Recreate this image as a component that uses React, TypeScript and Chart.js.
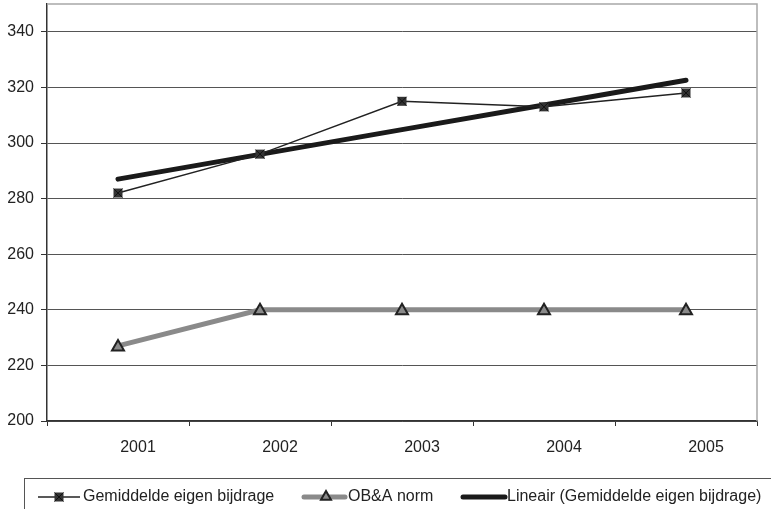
import React, { useEffect, useRef } from "react";
import { Chart, registerables } from "chart.js";

Chart.register(...registerables);

const categories = ["2001", "2002", "2003", "2004", "2005"];
const gemiddelde = [282, 296, 315, 313, 318];
const obaNorm = [227, 240, 240, 240, 240];
const lineair = [287, 295.9, 304.8, 313.7, 322.6];
const yTicks = [200, 220, 240, 260, 280, 300, 320, 340];

const FONT = "'Liberation Sans', Arial, sans-serif";

function drawCrossSquare(ctx: CanvasRenderingContext2D, x: number, y: number, s: number) {
  ctx.save();
  ctx.fillStyle = "#333";
  ctx.fillRect(x - s, y - s, 2 * s, 2 * s);
  ctx.strokeStyle = "#111";
  ctx.lineWidth = 1;
  ctx.beginPath();
  ctx.moveTo(x - s, y - s);
  ctx.lineTo(x + s, y + s);
  ctx.moveTo(x + s, y - s);
  ctx.lineTo(x - s, y + s);
  ctx.stroke();
  ctx.restore();
}

function drawTriangle(ctx: CanvasRenderingContext2D, x: number, y: number, r: number) {
  ctx.save();
  ctx.fillStyle = "#8a8a8a";
  ctx.strokeStyle = "#222";
  ctx.lineWidth = 2;
  ctx.beginPath();
  ctx.moveTo(x, y - r);
  ctx.lineTo(x + r, y + r * 0.75);
  ctx.lineTo(x - r, y + r * 0.75);
  ctx.closePath();
  ctx.fill();
  ctx.stroke();
  ctx.restore();
}

const framePlugin = {
  id: "frame",
  beforeDatasetsDraw(chart: any) {
    const { ctx, chartArea } = chart;
    ctx.save();
    ctx.strokeStyle = "#a8a8a8";
    ctx.lineWidth = 1.5;
    ctx.beginPath();
    ctx.moveTo(chartArea.left, chartArea.top);
    ctx.lineTo(chartArea.right, chartArea.top);
    ctx.lineTo(chartArea.right, chartArea.bottom);
    ctx.stroke();
    ctx.restore();
  },
  afterDatasetsDraw(chart: any) {
    const { ctx } = chart;
    const meta0 = chart.getDatasetMeta(0);
    meta0.data.forEach((p: any) => drawCrossSquare(ctx, p.x, p.y, 4.5));
    const meta1 = chart.getDatasetMeta(1);
    meta1.data.forEach((p: any) => drawTriangle(ctx, p.x, p.y, 6));
  },
  afterDraw(chart: any) {
    const { ctx } = chart;
    ctx.save();
    ctx.strokeStyle = "#555";
    ctx.lineWidth = 1;
    ctx.strokeRect(24.5, 478.5, 800, 60);
    const ly = 497;
    ctx.font = `16px ${FONT}`;
    ctx.fillStyle = "#222";
    ctx.textBaseline = "middle";
    // item 1
    ctx.strokeStyle = "#222";
    ctx.lineWidth = 1.5;
    ctx.beginPath();
    ctx.moveTo(38, ly);
    ctx.lineTo(80, ly);
    ctx.stroke();
    drawCrossSquare(ctx, 59, ly, 4.5);
    ctx.fillText("Gemiddelde eigen bijdrage", 83, ly);
    // item 2
    ctx.strokeStyle = "#8a8a8a";
    ctx.lineWidth = 5;
    ctx.lineCap = "round";
    ctx.beginPath();
    ctx.moveTo(304, ly);
    ctx.lineTo(345, ly);
    ctx.stroke();
    drawTriangle(ctx, 326, ly - 1, 5);
    ctx.fillStyle = "#222";
    ctx.fillText("OB&A norm", 348, ly);
    // item 3
    ctx.strokeStyle = "#1a1a1a";
    ctx.lineWidth = 5;
    ctx.beginPath();
    ctx.moveTo(463, ly);
    ctx.lineTo(505, ly);
    ctx.stroke();
    ctx.fillText("Lineair (Gemiddelde eigen bijdrage)", 507, ly);
    ctx.restore();
  },
};

export default function App() {
  const ref = useRef<HTMLCanvasElement>(null);
  useEffect(() => {
    if (!ref.current) return;
    const chart = new Chart(ref.current, {
      type: "line",
      data: {
        labels: categories,
        datasets: [
          {
            label: "Gemiddelde eigen bijdrage",
            data: gemiddelde,
            borderColor: "#222",
            borderWidth: 1.5,
            pointRadius: 0,
            tension: 0,
          },
          {
            label: "OB&A norm",
            data: obaNorm,
            borderColor: "#8a8a8a",
            borderWidth: 5,
            pointRadius: 0,
            tension: 0,
          },
          {
            label: "Lineair (Gemiddelde eigen bijdrage)",
            data: lineair,
            borderColor: "#1a1a1a",
            borderWidth: 5,
            borderCapStyle: "round",
            pointRadius: 0,
            tension: 0,
          },
        ],
      },
      options: {
        responsive: false,
        animation: false,
        layout: { padding: { left: 0, top: 4, right: 14, bottom: 0 } },
        plugins: { legend: { display: false }, tooltip: { enabled: false } },
        scales: {
          x: {
            offset: true,
            afterFit: (s: any) => {
              s.height = 88;
              s.paddingLeft = 0;
              s.paddingRight = 0;
            },
            grid: {
              offset: true,
              drawOnChartArea: false,
              drawTicks: true,
              tickLength: 5,
              color: "#333",
              tickWidth: 1,
            },
            border: { color: "#333", width: 1.5 },
            ticks: {
              color: "#222",
              font: { family: FONT, size: 16 },
              labelOffset: 20,
              padding: 12,
              maxRotation: 0,
            },
          },
          y: {
            min: 200,
            max: 350,
            afterBuildTicks: (s: any) => {
              s.ticks = yTicks.map((v) => ({ value: v }));
            },
            afterFit: (s: any) => {
              s.width = 47;
              s.paddingTop = 0;
              s.paddingBottom = 0;
            },
            grid: {
              color: "#555",
              lineWidth: 1,
              tickLength: 6,
              tickColor: "#333",
            },
            border: { color: "#333", width: 1.5 },
            ticks: {
              color: "#222",
              font: { family: FONT, size: 16 },
              padding: 7,
            },
          },
        },
      },
      plugins: [framePlugin],
    } as any);
    return () => chart.destroy();
  }, []);
  return (
    <div style={{ position: "fixed", left: 0, top: 0, width: 771, height: 509, background: "#fff" }}>
      <canvas ref={ref} width={771} height={509} style={{ width: 771, height: 509, display: "block" }} />
    </div>
  );
}
